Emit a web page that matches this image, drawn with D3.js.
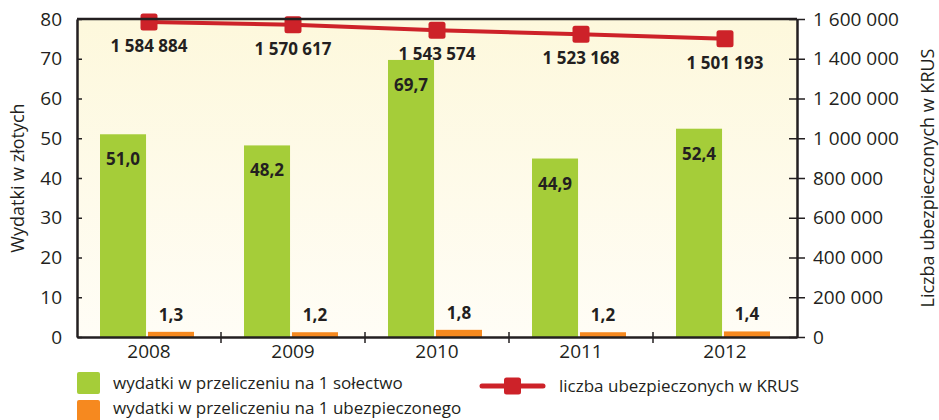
<!DOCTYPE html>
<html>
<head>
<meta charset="utf-8">
<script src="https://cdn.jsdelivr.net/npm/d3@7"></script>
<style>
  html, body { margin: 0; padding: 0; background: #fff; }
  svg { display: block; font-family: 'Open Sans', sans-serif; }
</style>
</head>
<body>
<div id="chart"></div>
<script>
const years = ['2008', '2009', '2010', '2011', '2012'];
const perSolectwo = [51.0, 48.2, 69.7, 44.9, 52.4];
const perInsured = [1.3, 1.2, 1.8, 1.2, 1.4];
const insuredKrus = [1584884, 1570617, 1543574, 1523168, 1501193];
const leftTicks = [0, 10, 20, 30, 40, 50, 60, 70, 80];
const rightTicks = [0, 200000, 400000, 600000, 800000, 1000000, 1200000, 1400000, 1600000];
const legendLabels = [
  'wydatki w przeliczeniu na 1 sołectwo',
  'wydatki w przeliczeniu na 1 ubezpieczonego',
  'liczba ubezpieczonych w KRUS'
];

const colors = { green: '#a5cd39', orange: '#f6891f', red: '#cd2229', text: '#231f20' };

const width = 939;
const height = 420;
const margin = { top: 19, right: 142, bottom: 83, left: 77 };
const innerW = width - margin.left - margin.right;
const innerH = height - margin.top - margin.bottom;

const svg = d3.select('#chart')
  .append('svg')
  .attr('width', width)
  .attr('height', height);

const defs = svg.append('defs');
const grad = defs.append('linearGradient')
  .attr('id', 'bg')
  .attr('x1', 0).attr('y1', 0).attr('x2', 0).attr('y2', 1);
grad.append('stop').attr('offset', '0%').attr('stop-color', '#fdf8dc');
grad.append('stop').attr('offset', '100%').attr('stop-color', '#fffdf6');

const g = svg.append('g').attr('transform', `translate(${margin.left},${margin.top})`);

const x = d3.scaleBand().domain(years).range([0, innerW]);
const xs = d3.scaleBand().domain(['a', 'b']).range([23, 117]).paddingInner(0.04);
const y = d3.scaleLinear().domain([0, 80]).range([innerH, 0]);
const y2 = d3.scaleLinear().domain([0, 1600000]).range([innerH, 0]);

const fmtSpace = d => d3.format(',')(d).replace(/,/g, ' ');
const fmtComma = d => d3.format('.1f')(d).replace('.', ',');

// plot background
g.append('rect')
  .attr('width', innerW)
  .attr('height', innerH)
  .attr('fill', 'url(#bg)');

// green bars
g.selectAll('.bar-s')
  .data(perSolectwo)
  .join('rect')
  .attr('class', 'bar-s')
  .attr('x', (d, i) => x(years[i]) + xs('a'))
  .attr('y', d => y(d))
  .attr('width', xs.bandwidth())
  .attr('height', d => innerH - y(d))
  .attr('fill', colors.green);

// orange bars
g.selectAll('.bar-u')
  .data(perInsured)
  .join('rect')
  .attr('class', 'bar-u')
  .attr('x', (d, i) => x(years[i]) + xs('b'))
  .attr('y', d => y(d))
  .attr('width', xs.bandwidth())
  .attr('height', d => innerH - y(d))
  .attr('fill', colors.orange);

// bar labels
g.selectAll('.lab-s')
  .data(perSolectwo)
  .join('text')
  .attr('x', (d, i) => x(years[i]) + xs('a') + xs.bandwidth() / 2)
  .attr('y', d => y(d) + 31)
  .attr('text-anchor', 'middle')
  .attr('font-size', 17)
  .attr('font-weight', 700)
  .attr('fill', colors.text)
  .text(fmtComma);

g.selectAll('.lab-u')
  .data(perInsured)
  .join('text')
  .attr('x', (d, i) => x(years[i]) + xs('b') + xs.bandwidth() / 2)
  .attr('y', d => y(d) - 11)
  .attr('text-anchor', 'middle')
  .attr('font-size', 17)
  .attr('font-weight', 700)
  .attr('fill', colors.text)
  .text(fmtComma);

// line
const cx = (d, i) => x(years[i]) + x.bandwidth() / 2;
g.append('path')
  .datum(insuredKrus)
  .attr('fill', 'none')
  .attr('stroke', colors.red)
  .attr('stroke-width', 4)
  .attr('d', d3.line().x(cx).y(d => y2(d)));

g.selectAll('.mark')
  .data(insuredKrus)
  .join('rect')
  .attr('x', (d, i) => cx(d, i) - 8.5)
  .attr('y', d => y2(d) - 8.5)
  .attr('width', 17)
  .attr('height', 17)
  .attr('rx', 2.5)
  .attr('fill', colors.red);

g.selectAll('.lab-k')
  .data(insuredKrus)
  .join('text')
  .attr('x', cx)
  .attr('y', d => y2(d) + 30)
  .attr('text-anchor', 'middle')
  .attr('font-size', 17)
  .attr('font-weight', 700)
  .attr('fill', colors.text)
  .text(fmtSpace);

// top frame line
g.append('line')
  .attr('x1', 0).attr('x2', innerW)
  .attr('y1', 0).attr('y2', 0)
  .attr('stroke', colors.text)
  .attr('stroke-width', 2.5);

const styleAxis = sel => sel
  .call(a => a.select('.domain').attr('stroke', colors.text).attr('stroke-width', 2.5))
  .call(a => a.selectAll('.tick line').attr('stroke', colors.text).attr('stroke-width', 1.5))
  .call(a => a.selectAll('.tick text').attr('fill', colors.text).style('font-size', '19px').attr('font-family', "'Open Sans', sans-serif"));

// left axis
g.append('g')
  .call(d3.axisLeft(y).tickValues(leftTicks).tickSize(9).tickSizeOuter(0).tickPadding(6))
  .call(styleAxis)
  .call(a => a.selectAll('.tick line').attr('x2', 5));

// right axis
g.append('g')
  .attr('transform', `translate(${innerW},0)`)
  .call(d3.axisRight(y2).tickValues(rightTicks).tickFormat(fmtSpace).tickSize(8).tickSizeOuter(0).tickPadding(8))
  .call(styleAxis)
  .call(a => a.selectAll('.tick line').attr('x1', -8));

// bottom axis
g.append('g')
  .attr('transform', `translate(0,${innerH})`)
  .call(d3.axisBottom(x).tickSize(0).tickPadding(8))
  .call(styleAxis);

g.append('g')
  .selectAll('line')
  .data(years.slice(1))
  .join('line')
  .attr('x1', d => x(d)).attr('x2', d => x(d))
  .attr('y1', innerH - 5).attr('y2', innerH + 6)
  .attr('stroke', colors.text)
  .attr('stroke-width', 1.5);

// axis titles
svg.append('text')
  .attr('transform', `translate(24,${margin.top + innerH / 2}) rotate(-90)`)
  .attr('text-anchor', 'middle')
  .attr('font-size', 18)
  .attr('fill', colors.text)
  .text('Wydatki w złotych');

svg.append('text')
  .attr('transform', `translate(934,${margin.top + innerH / 2}) rotate(-90)`)
  .attr('text-anchor', 'middle')
  .attr('font-size', 18)
  .attr('fill', colors.text)
  .text('Liczba ubezpieczonych w KRUS');

// legend
const legend = svg.append('g');
legend.append('rect').attr('x', 77).attr('y', 372).attr('width', 23).attr('height', 22).attr('rx', 2).attr('fill', colors.green);
legend.append('text').attr('x', 113).attr('y', 389).attr('font-size', 17).attr('fill', colors.text).text(legendLabels[0]);
legend.append('rect').attr('x', 77).attr('y', 400).attr('width', 23).attr('height', 22).attr('rx', 2).attr('fill', colors.orange);
legend.append('text').attr('x', 113).attr('y', 414).attr('font-size', 17).attr('fill', colors.text).text(legendLabels[1]);
legend.append('line').attr('x1', 482).attr('x2', 543).attr('y1', 386).attr('y2', 386).attr('stroke', colors.red).attr('stroke-width', 5).attr('stroke-linecap', 'round');
legend.append('rect').attr('x', 504).attr('y', 377.5).attr('width', 17).attr('height', 17).attr('rx', 2.5).attr('fill', colors.red);
legend.append('text').attr('x', 559).attr('y', 392).attr('font-size', 17).attr('fill', colors.text).text(legendLabels[2]);
</script>
</body>
</html>
